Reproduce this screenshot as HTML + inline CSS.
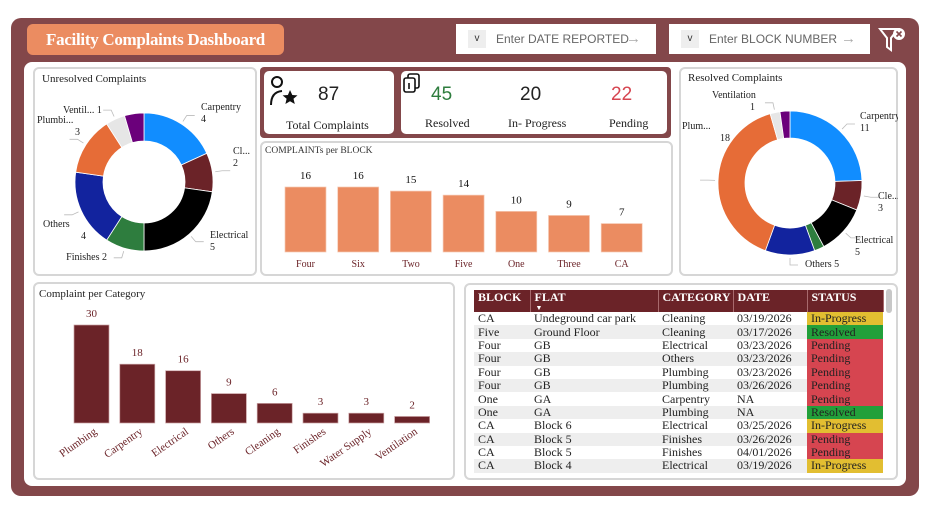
<!DOCTYPE html>
<html><head><meta charset="utf-8">
<style>
*{box-sizing:border-box;margin:0;padding:0}
body{width:927px;height:512px;background:#fff;position:relative;overflow:hidden;font-family:"Liberation Serif",serif;color:#222}
.abs{position:absolute}
.card{position:absolute;background:#fff;border:2px solid #d6d6d6;border-radius:6px}
.ct{position:absolute;font-size:11px;color:#222}
table{border-collapse:collapse;font-size:12px;width:409px;table-layout:fixed}
td,th{padding:0 4px;height:13.4px;line-height:13px;text-align:left;white-space:nowrap;overflow:hidden}
th{background:#6B2328;color:#fff;font-weight:bold;height:22px;border-right:1px solid #a86a6d;vertical-align:top;padding-top:1px;position:relative}
tr.alt td{background:#eeeeee}
.st-p{background:#D64550!important}.st-r{background:#22A03A!important}.st-i{background:#E2BE31!important}
</style></head><body>
<div class="abs" style="left:11px;top:18px;width:908px;height:478px;background:#83474A;border-radius:10px"></div>
<div class="abs" style="left:27px;top:24px;width:257px;height:31px;background:#EB8C61;border-radius:6px;color:#fff;font-size:17px;font-weight:bold;line-height:31px;text-align:center;letter-spacing:-0.3px">Facility Complaints Dashboard</div>
<div class="abs" style="left:456px;top:24px;width:200px;height:30px;background:#fff;font-family:'Liberation Sans',sans-serif;font-size:12px;color:#666;line-height:30px">
<span style="position:absolute;left:12px;top:6px;width:18px;height:18px;background:#eee;line-height:18px;text-align:center;font-size:10px;color:#333">v</span><span style="position:absolute;left:40px">Enter DATE REPORTED</span><span style="position:absolute;left:170px;font-size:15px;color:#aaa">→</span></div>
<div class="abs" style="left:669px;top:24px;width:201px;height:30px;background:#fff;font-family:'Liberation Sans',sans-serif;font-size:12px;color:#666;line-height:30px">
<span style="position:absolute;left:12px;top:6px;width:18px;height:18px;background:#eee;line-height:18px;text-align:center;font-size:10px;color:#333">v</span><span style="position:absolute;left:40px">Enter BLOCK NUMBER</span><span style="position:absolute;left:172px;font-size:15px;color:#aaa">→</span></div>
<svg class="abs" style="left:878px;top:26px" width="30" height="28" viewBox="0 0 30 28"><path d="M2 3 H20 L13 12 V24 L9 21 V12 Z" fill="none" stroke="#fff" stroke-width="2"/><circle cx="21" cy="8" r="6" fill="#fff"/><path d="M18.5 5.5l5 5M23.5 5.5l-5 5" stroke="#83474A" stroke-width="1.6"/></svg>

<div class="abs" style="left:24px;top:62px;width:882px;height:424px;background:#fff;border-radius:8px"></div>

<div class="card" style="left:33px;top:67px;width:224px;height:209px"></div>
<div class="ct" style="left:42px;top:73px">Unresolved Complaints</div>
<svg class="abs" id="donut1" style="left:33px;top:67px" width="224" height="209"></svg>

<div class="abs" style="left:260px;top:67px;width:411px;height:71px;background:#83474A;border-radius:4px"></div>
<div class="abs" style="left:264px;top:71px;width:130px;height:63px;background:#fff;border-radius:5px">
<svg class="abs" style="left:4px;top:4px" width="32" height="32" viewBox="0 0 32 32"><circle cx="9" cy="7" r="5" fill="none" stroke="#111" stroke-width="2"/><path d="M3 30 Q3 17 14 16" fill="none" stroke="#111" stroke-width="2"/><path d="M22 15l2.3 5 5.2.4-4 3.4 1.3 5.2-4.8-2.8-4.6 2.8 1.2-5.2-4-3.4 5.3-.4z" fill="#111"/></svg>
<div class="abs" style="left:54px;top:13px;font-family:'Liberation Sans',sans-serif;font-size:19px;color:#222">87</div>
<div class="abs" style="left:22px;top:47px;font-size:12px">Total Complaints</div></div>
<div class="abs" style="left:401px;top:71px;width:266px;height:63px;background:#fff;border-radius:5px">
<svg class="abs" style="left:2px;top:2px" width="18" height="20" viewBox="0 0 18 20"><rect x="5" y="1" width="11" height="14" rx="2" fill="none" stroke="#111" stroke-width="1.6"/><rect x="1" y="5" width="11" height="14" rx="2" fill="#fff" stroke="#111" stroke-width="1.6"/><path d="M6 10v6" stroke="#111" stroke-width="1.6"/></svg>
<div class="abs" style="left:30px;top:13px;font-family:'Liberation Sans',sans-serif;font-size:19px;color:#2E7D3E">45</div>
<div class="abs" style="left:119px;top:13px;font-family:'Liberation Sans',sans-serif;font-size:19px;color:#222">20</div>
<div class="abs" style="left:210px;top:13px;font-family:'Liberation Sans',sans-serif;font-size:19px;color:#D64550">22</div>
<div class="abs" style="left:24px;top:45px;font-size:12px">Resolved</div>
<div class="abs" style="left:107px;top:45px;font-size:12px">In- Progress</div>
<div class="abs" style="left:208px;top:45px;font-size:12px">Pending</div></div>

<div class="card" style="left:260px;top:141px;width:413px;height:135px"></div>
<div class="ct" style="left:265px;top:146px;font-size:9.5px;color:#333">COMPLAINTs per BLOCK</div>
<svg class="abs" id="blockChart" style="left:260px;top:141px" width="413" height="135"></svg>

<div class="card" style="left:679px;top:67px;width:219px;height:209px"></div>
<div class="ct" style="left:688px;top:72px">Resolved Complaints</div>
<svg class="abs" id="donut2" style="left:679px;top:67px" width="219" height="209"></svg>

<div class="card" style="left:33px;top:282px;width:422px;height:198px"></div>
<div class="ct" style="left:39px;top:288px">Complaint per Category</div>
<svg class="abs" id="catChart" style="left:33px;top:282px" width="422" height="198"></svg>

<div class="card" style="left:464px;top:283px;width:434px;height:197px"></div>
<div class="abs" style="left:886px;top:289px;width:6px;height:24px;background:#c8c8c8;border-radius:3px"></div>
<div class="abs" style="left:474px;top:290px">
<table>
<colgroup><col style="width:56px"><col style="width:128px"><col style="width:75px"><col style="width:74px"><col style="width:76px"></colgroup>
<tr><th>BLOCK</th><th>FLAT<span style="position:absolute;left:5px;top:12px;font-size:7px">▼</span></th><th>CATEGORY</th><th>DATE</th><th>STATUS</th></tr>
<tr><td>CA</td><td>Undeground car park</td><td>Cleaning</td><td>03/19/2026</td><td class="st-i">In-Progress</td></tr>
<tr class="alt"><td>Five</td><td>Ground Floor</td><td>Cleaning</td><td>03/17/2026</td><td class="st-r">Resolved</td></tr>
<tr><td>Four</td><td>GB</td><td>Electrical</td><td>03/23/2026</td><td class="st-p">Pending</td></tr>
<tr class="alt"><td>Four</td><td>GB</td><td>Others</td><td>03/23/2026</td><td class="st-p">Pending</td></tr>
<tr><td>Four</td><td>GB</td><td>Plumbing</td><td>03/23/2026</td><td class="st-p">Pending</td></tr>
<tr class="alt"><td>Four</td><td>GB</td><td>Plumbing</td><td>03/26/2026</td><td class="st-p">Pending</td></tr>
<tr><td>One</td><td>GA</td><td>Carpentry</td><td>NA</td><td class="st-p">Pending</td></tr>
<tr class="alt"><td>One</td><td>GA</td><td>Plumbing</td><td>NA</td><td class="st-r">Resolved</td></tr>
<tr><td>CA</td><td>Block 6</td><td>Electrical</td><td>03/25/2026</td><td class="st-i">In-Progress</td></tr>
<tr class="alt"><td>CA</td><td>Block 5</td><td>Finishes</td><td>03/26/2026</td><td class="st-p">Pending</td></tr>
<tr><td>CA</td><td>Block 5</td><td>Finishes</td><td>04/01/2026</td><td class="st-p">Pending</td></tr>
<tr class="alt"><td>CA</td><td>Block 4</td><td>Electrical</td><td>03/19/2026</td><td class="st-i">In-Progress</td></tr>
</table></div>

<script>
const donutCats = ["Carpentry","Cleaning","Electrical","Finishes","Others","Plumbing","Ventilation","Water Supply"];
const unresolvedVals = [4,2,5,2,4,3,1,1];
const resolvedVals = [11,3,5,1,5,18,1,1];
const unresolvedLabels = ["Carpentry","Cl...","Electrical","Finishes","Others","Plumbi...","Ventil...",""];
const resolvedLabels = ["Carpentry","Cle...","Electrical","","Others","Plum...","Ventilation",""];
const blockCats = ["Four","Six","Two","Five","One","Three","CA"];
const blockVals = [16,16,15,14,10,9,7];
const catCats = ["Plumbing","Carpentry","Electrical","Others","Cleaning","Finishes","Water Supply","Ventilation"];
const catVals = [30,18,16,9,6,3,3,2];

// label layout (positions in card coords): [x, y, anchor, inline]
const unresolvedLabelPos = [[168,43,"start",0],[200,87,"start",0],[177,171,"start",0],[74,193,"end",1],[10,160,"start",0],[4,56,"start",0],[30,46,"start",1],[0,0,"start",0]];
const resolvedLabelPos = [[181,52,"start",0],[199,132,"start",0],[176,176,"start",0],[0,0,"start",0],[126,200,"start",1],[3,62,"start",0],[33,31,"start",0],[0,0,"start",0]];

const NS="http://www.w3.org/2000/svg";
const colors=["#118DFF","#6B2328","#000000","#2E7D3E","#12239E","#E66C37","#E6E6E6","#6B007B"];
function mk(svg,tag,attrs){const e=document.createElementNS(NS,tag);for(const k in attrs)e.setAttribute(k,attrs[k]);svg.appendChild(e);return e;}

function donut(id,vals,labels,pos,cx,cy,R,r,prefix){
  const svg=document.getElementById(id);
  const tot=vals.reduce((a,b)=>a+b,0);
  let a0=0;
  vals.forEach((v,i)=>{
    const a1=a0+v/tot*2*Math.PI;
    const p=(a,rad)=>[cx+rad*Math.sin(a),cy-rad*Math.cos(a)];
    const large=(a1-a0)>Math.PI?1:0;
    const [x1,y1]=p(a0,R),[x2,y2]=p(a1,R),[x3,y3]=p(a1,r),[x4,y4]=p(a0,r);
    const path=mk(svg,"path",{d:`M${x1} ${y1}A${R} ${R} 0 ${large} 1 ${x2} ${y2}L${x3} ${y3}A${r} ${r} 0 ${large} 0 ${x4} ${y4}Z`,fill:colors[i],stroke:"#fff","stroke-width":"0.8"});
    
    
    if(labels[i]){
      const am=(a0+a1)/2;const right=Math.sin(am)>=0;
      const [lx,ly]=p(am,R+3),[mx,my]=p(am,R+10);
      const ex=mx+(right?8:-8);
      mk(svg,"polyline",{points:`${lx},${ly} ${mx},${my} ${ex},${my}`,fill:"none",stroke:"#bbb","stroke-width":"0.8"});
      const [tx,ty,anc,inl]=pos[i];
      const t=mk(svg,"text",{x:tx,y:ty,"font-size":"10","text-anchor":anc,fill:"#222","font-family":"Liberation Serif, serif"});
      t.textContent=inl?labels[i]+" "+vals[i]:labels[i];
      
      
      if(!inl){
        const t2=mk(svg,"text",{x:tx+(anc==="start"&&tx<60?38:0),y:ty+12,"font-size":"10","text-anchor":anc,fill:"#222","font-family":"Liberation Serif, serif"});
        t2.textContent=vals[i];
        
        
      }
    }
    a0=a1;
  });
}
donut("donut1",unresolvedVals,unresolvedLabels,unresolvedLabelPos,111,115,69,41,"unresolved");
donut("donut2",resolvedVals,resolvedLabels,resolvedLabelPos,111,116,72,45,"resolved");

function bars(id,cats,vals,opt){
  const svg=document.getElementById(id);
  const y=v=>opt.base-v/opt.max*opt.h;
  cats.forEach((c,i)=>{
    const x=opt.x0+i*opt.pitch;
    const b=mk(svg,"rect",{x:x,y:y(vals[i]),width:opt.w,height:opt.base-y(vals[i]),fill:opt.color,stroke:opt.stroke,"stroke-width":"0.7"});
    
    
    const t=mk(svg,"text",{x:x+opt.w/2,y:y(vals[i])-8,"font-size":"11","text-anchor":"middle",fill:opt.vcolor,"font-family":"Liberation Serif, serif"});
    t.textContent=vals[i];
    
    
    let l;
    if(opt.rot){
      const lx=x+opt.w/2+6,ly=opt.base+10;
      l=mk(svg,"text",{x:lx,y:ly,"font-size":"11","text-anchor":"end",fill:"#6B2328",transform:`rotate(-35 ${lx} ${ly})`,"font-family":"Liberation Serif, serif"});
    } else {
      l=mk(svg,"text",{x:x+opt.w/2,y:opt.base+15,"font-size":"10","text-anchor":"middle",fill:"#6B2328","font-family":"Liberation Serif, serif"});
    }
    l.textContent=c;
    
    
  });
}
bars("blockChart",blockCats,blockVals,{x0:25,pitch:52.7,w:41,base:111,h:65,max:16,color:"#EB8C61",stroke:"#f6c9b4",vcolor:"#111",prefix:"block"});
bars("catChart",catCats,catVals,{x0:41,pitch:45.8,w:35,base:141,h:98,max:30,color:"#6B2328",stroke:"#c9a0a2",vcolor:"#6B2328",prefix:"category",rot:true});
</script>
</body></html>
